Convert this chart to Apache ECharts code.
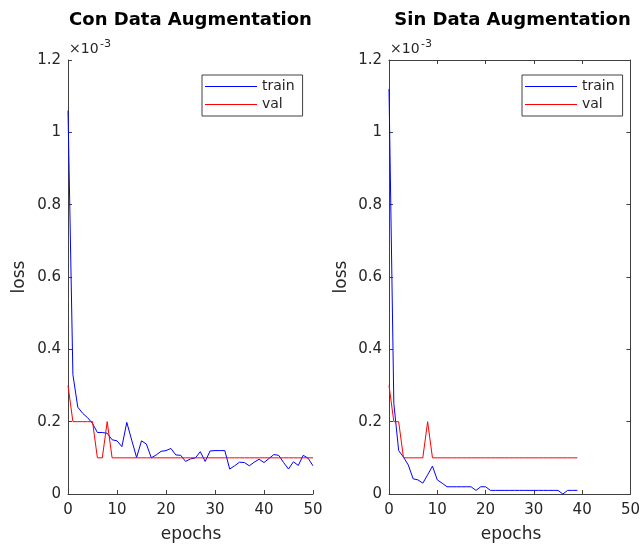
<!DOCTYPE html>
<html>
<head>
<meta charset="utf-8">
<script src="https://cdn.jsdelivr.net/npm/echarts@6/dist/echarts.min.js"></script>
<style>
html,body{margin:0;padding:0;background:#fff;}
#c{width:643px;height:545px;}
</style>
</head>
<body>
<div id="c"></div>
<script>
// values in units of 1e-3 (axis shows "×10^-3")
const conTrain = [1.06, 0.33, 0.24, 0.223, 0.211, 0.195, 0.17, 0.17, 0.168, 0.15, 0.147, 0.131, 0.198, 0.149, 0.101, 0.147, 0.138, 0.10, 0.108, 0.118, 0.12, 0.126, 0.108, 0.107, 0.09, 0.097, 0.10, 0.117, 0.09, 0.119, 0.12, 0.12, 0.12, 0.069, 0.078, 0.088, 0.087, 0.078, 0.088, 0.096, 0.087, 0.098, 0.109, 0.107, 0.087, 0.069, 0.089, 0.079, 0.107, 0.099, 0.078];
const conVal = [0.3, 0.2, 0.2, 0.2, 0.2, 0.2, 0.1, 0.1, 0.2, 0.1, 0.1, 0.1, 0.1, 0.1, 0.1, 0.1, 0.1, 0.1, 0.1, 0.1, 0.1, 0.1, 0.1, 0.1, 0.1, 0.1, 0.1, 0.1, 0.1, 0.1, 0.1, 0.1, 0.1, 0.1, 0.1, 0.1, 0.1, 0.1, 0.1, 0.1, 0.1, 0.1, 0.1, 0.1, 0.1, 0.1, 0.1, 0.1, 0.1, 0.1, 0.1];
const sinTrain = [1.12, 0.25, 0.12, 0.102, 0.08, 0.042, 0.039, 0.03, 0.053, 0.077, 0.039, 0.03, 0.02, 0.02, 0.02, 0.02, 0.02, 0.02, 0.01, 0.02, 0.02, 0.01, 0.01, 0.01, 0.01, 0.01, 0.01, 0.01, 0.01, 0.01, 0.01, 0.01, 0.01, 0.01, 0.01, 0.01, 0.0, 0.01, 0.01, 0.01];
const sinVal = [0.3, 0.2, 0.2, 0.1, 0.1, 0.1, 0.1, 0.1, 0.2, 0.1, 0.1, 0.1, 0.1, 0.1, 0.1, 0.1, 0.1, 0.1, 0.1, 0.1, 0.1, 0.1, 0.1, 0.1, 0.1, 0.1, 0.1, 0.1, 0.1, 0.1, 0.1, 0.1, 0.1, 0.1, 0.1, 0.1, 0.1, 0.1, 0.1, 0.1];
const titles = ['Con Data Augmentation', 'Sin Data Augmentation'];
const xTicks = [0, 10, 20, 30, 40, 50];
const yTicks = [0, 0.2, 0.4, 0.6, 0.8, 1, 1.2];

const pairs = arr => arr.map((v, i) => [i, v]);
const FONT = '"DejaVu Sans", sans-serif';
const TXT = '#262626';
const AX = '#404040';

const grids = [
  {left: 68, top: 60, width: 245, height: 434},
  {left: 389, top: 60, width: 242, height: 434}
];

function xAx(g, pos, labels) {
  return {
    type: 'value', gridIndex: g, position: pos, min: xTicks[0], max: xTicks[xTicks.length - 1], interval: 10,
    axisLine: {show: true, onZero: false, lineStyle: {color: AX, width: 1}},
    axisTick: {show: true, inside: true, length: 4, lineStyle: {color: AX}},
    axisLabel: {show: labels, margin: 9, color: TXT, fontFamily: FONT, fontSize: 15},
    splitLine: {show: false}
  };
}
function yAx(g, pos, labels) {
  return {
    type: 'value', gridIndex: g, position: pos, min: yTicks[0], max: yTicks[yTicks.length - 1], interval: 0.2,
    axisLine: {show: true, onZero: false, lineStyle: {color: AX, width: 1}},
    axisTick: {show: true, inside: true, length: 4, lineStyle: {color: AX}},
    axisLabel: {show: labels, margin: 7, color: TXT, fontFamily: FONT, fontSize: 15,
      formatter: v => String(Math.round(v * 10) / 10)},
    splitLine: {show: false}
  };
}

function line(name, data, xi, yi, color) {
  return {
    type: 'line', name, data: pairs(data), xAxisIndex: xi, yAxisIndex: yi,
    symbol: 'none', showSymbol: false, animation: false,
    lineStyle: {color, width: 1}, itemStyle: {color}, z: name === 'val' ? 3 : 2
  };
}

function legendAt(left) {
  return {
    show: true, orient: 'vertical', left, top: 75, data: ['train', 'val'],
    icon: 'rect', itemWidth: 52, itemHeight: 1.2, itemGap: 1, padding: [3, 8, 3, 3],
    borderColor: AX, borderWidth: 1, backgroundColor: '#fff',
    textStyle: {color: TXT, fontFamily: FONT, fontSize: 14, lineHeight: 17}, selectedMode: false
  };
}

function txt(text, x, y, size, opts) {
  return Object.assign({type: 'text', x, y, z: 10,
    style: Object.assign({text, fill: TXT, font: size + 'px ' + FONT, textAlign: 'center', textVerticalAlign: 'middle'}, opts && opts.style || {})},
    opts && opts.el || {});
}

const graphics = [
  txt(titles[0], 190.5, 20, 18, {style: {font: 'bold 18px ' + FONT, fill: '#000'}}),
  txt(titles[1], 512.5, 20, 18, {style: {font: 'bold 18px ' + FONT, fill: '#000'}}),
  txt('epochs', 191, 535, 17),
  txt('epochs', 511, 535, 17),
  txt('loss', 20, 277, 17, {el: {rotation: Math.PI / 2}}),
  txt('loss', 342, 277, 17, {el: {rotation: Math.PI / 2}}),
  txt('×10', 69, 49, 14, {style: {textAlign: 'left'}}),
  txt('-3', 100, 44, 11, {style: {textAlign: 'left'}}),
  txt('×10', 390, 49, 14, {style: {textAlign: 'left'}}),
  txt('-3', 421, 44, 11, {style: {textAlign: 'left'}})
];

const chart = echarts.init(document.getElementById('c'), null, {renderer: 'canvas'});
chart.setOption({
  animation: false,
  backgroundColor: '#fff',
  grid: grids,
  xAxis: [xAx(0, 'bottom', true), xAx(1, 'bottom', true), xAx(1, 'top', false)],
  yAxis: [yAx(0, 'left', true), yAx(1, 'left', true), yAx(1, 'right', false)],
  legend: [legendAt(202), legendAt(522)],
  series: [
    line('train', conTrain, 0, 0, '#0000ff'),
    line('val', conVal, 0, 0, '#ff0000'),
    line('train', sinTrain, 1, 1, '#0000ff'),
    line('val', sinVal, 1, 1, '#ff0000')
  ],
  graphic: graphics
});
</script>
</body>
</html>
